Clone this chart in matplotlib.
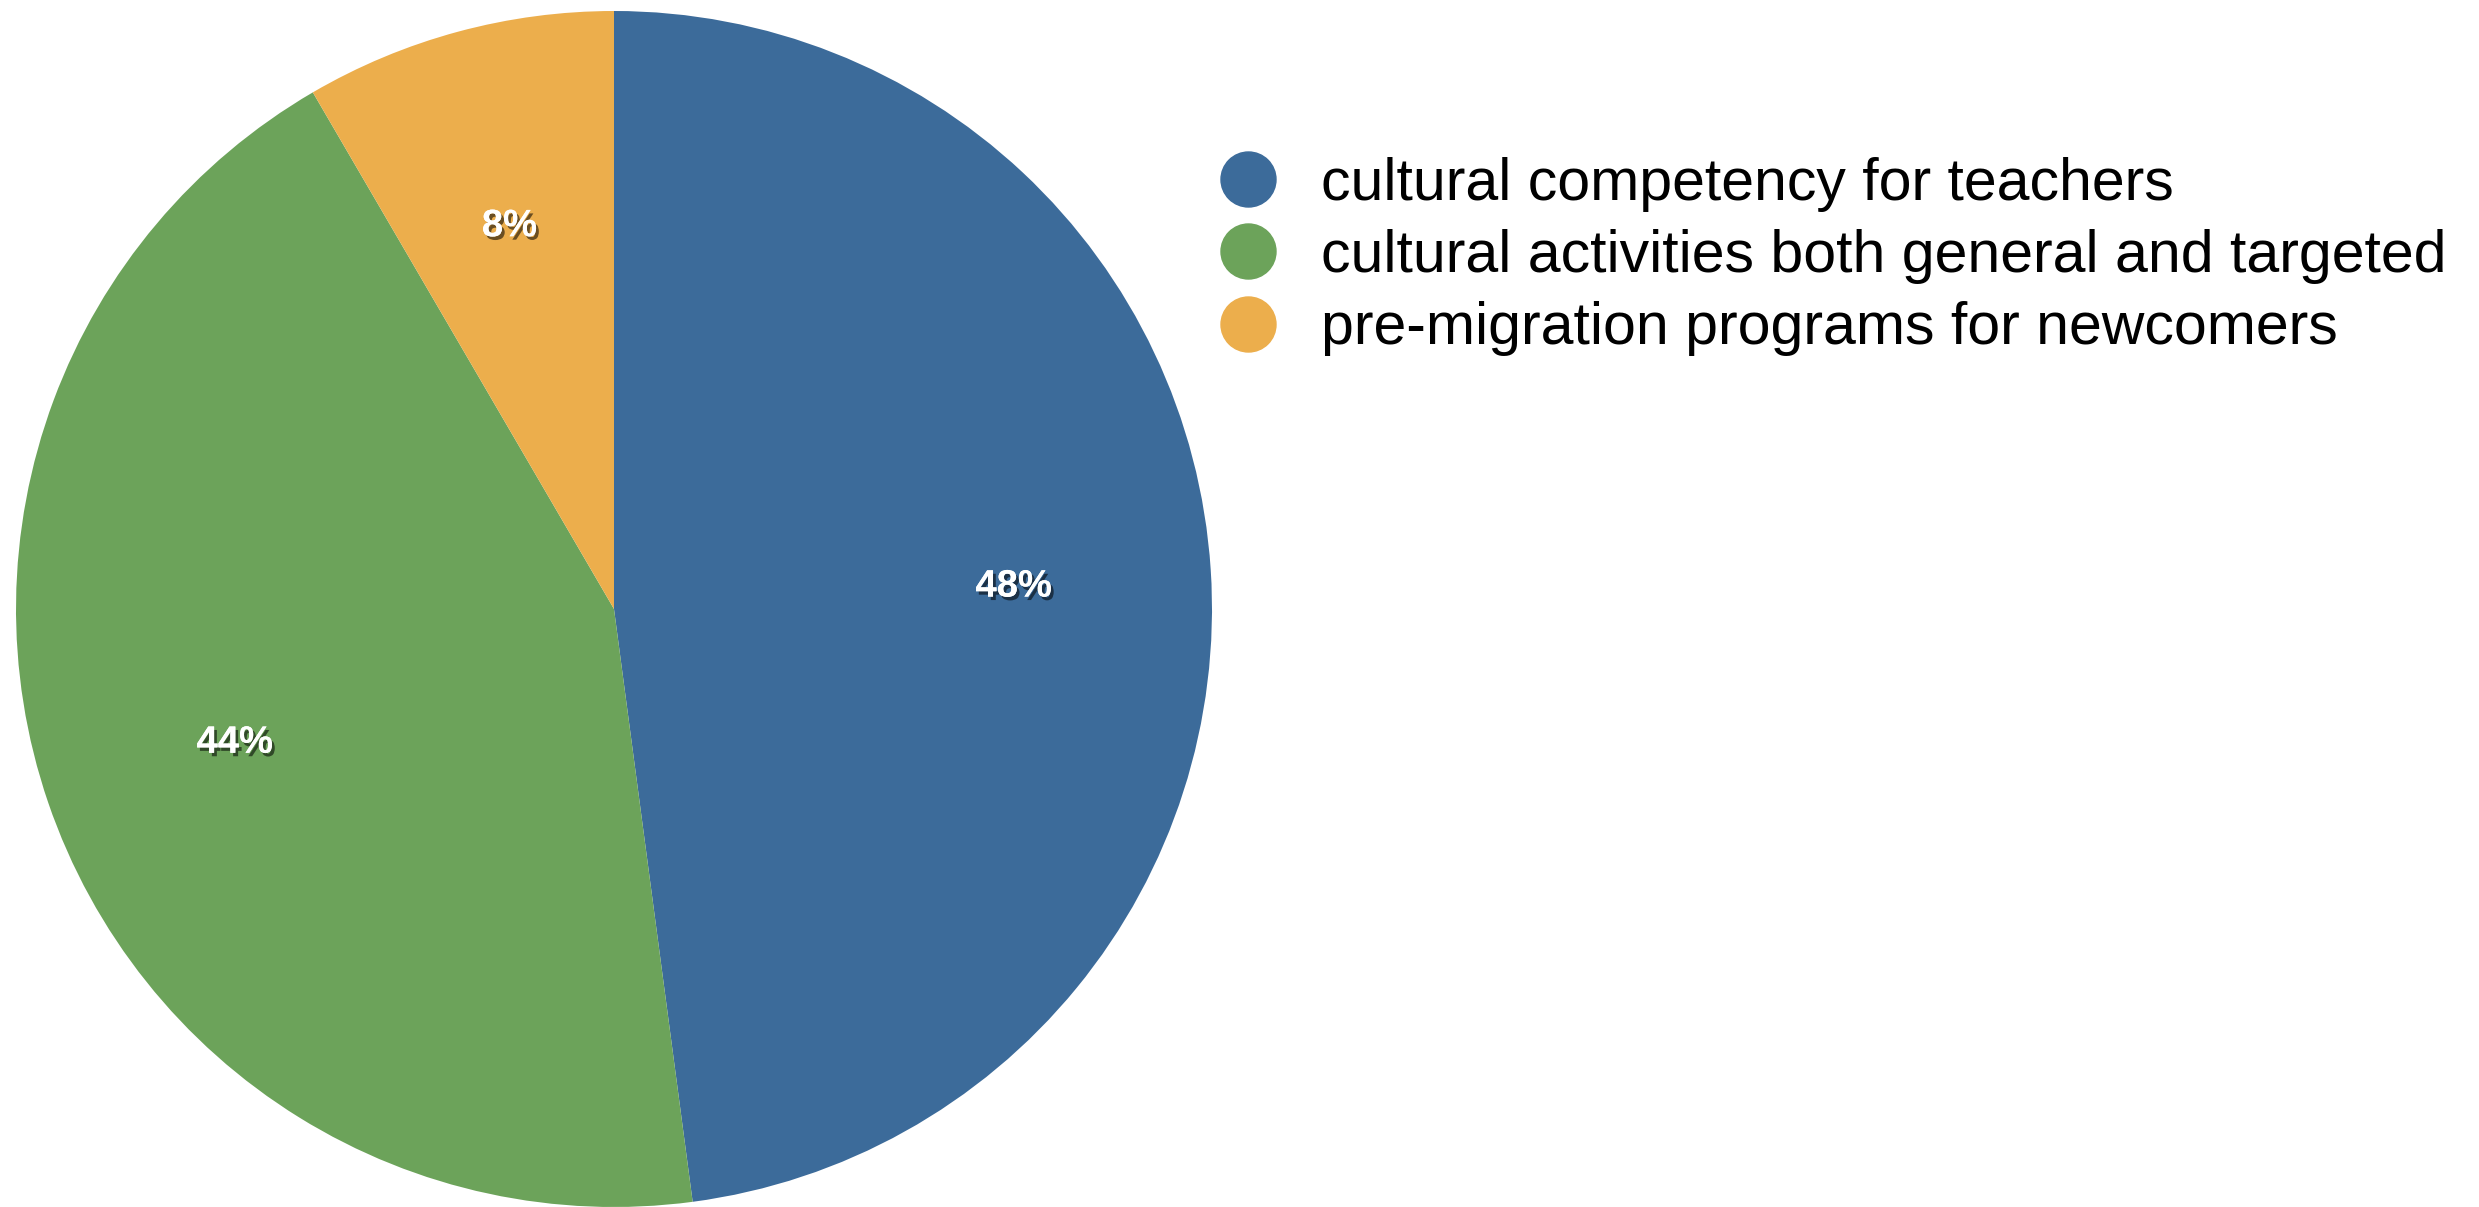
import matplotlib
matplotlib.use('Agg')
import matplotlib.pyplot as plt
import matplotlib.patheffects as pe
from matplotlib.lines import Line2D

labels = ['cultural competency for teachers',
          'cultural activities both general and targeted',
          'pre-migration programs for newcomers']
shares = [47.9, 43.7, 8.4]
colors = ['#3c6b9a', '#6ca35a', '#ecae4c']

plt.rcParams['font.family'] = ['Liberation Sans', 'DejaVu Sans']

W, H = 2479, 1207
fig = plt.figure(figsize=(W / 100, H / 100), dpi=100)

# pie: centre ~ (614, 609) px, radius ~ 598 px
r_px = 598
ax = fig.add_axes([(614 - r_px) / W, (H - 609 - r_px) / H, 2 * r_px / W, 2 * r_px / H])
wedges, texts, autotexts = ax.pie(shares, colors=colors, startangle=90, counterclock=False,
                                  autopct='%.0f%%', pctdistance=0.67, radius=1.0,
                                  wedgeprops=dict(linewidth=0))
ax.set_xlim(-1, 1)
ax.set_ylim(-1, 1)
ax.set_aspect('equal')

shadow = [pe.withSimplePatchShadow(offset=(2, -2.5), shadow_rgbFace='black', alpha=0.55),
          pe.Normal()]
for t in autotexts:
    t.set_color('white')
    t.set_fontweight('bold')
    t.set_fontsize(27.5)
    t.set_verticalalignment('center_baseline')
    t.set_path_effects(shadow)

handles = [Line2D([], [], marker='o', linestyle='none', markersize=39.6,
                  markerfacecolor=c, markeredgecolor=c) for c in colors]
fig.legend(handles, labels, loc='upper left', bbox_to_anchor=(1218.5 / W, 1 - 157 / H),
           frameon=False, fontsize=42.5, handlelength=1.0, handletextpad=0.74,
           labelspacing=0.29, borderpad=0, borderaxespad=0)

fig.savefig('out.png', dpi=100)
